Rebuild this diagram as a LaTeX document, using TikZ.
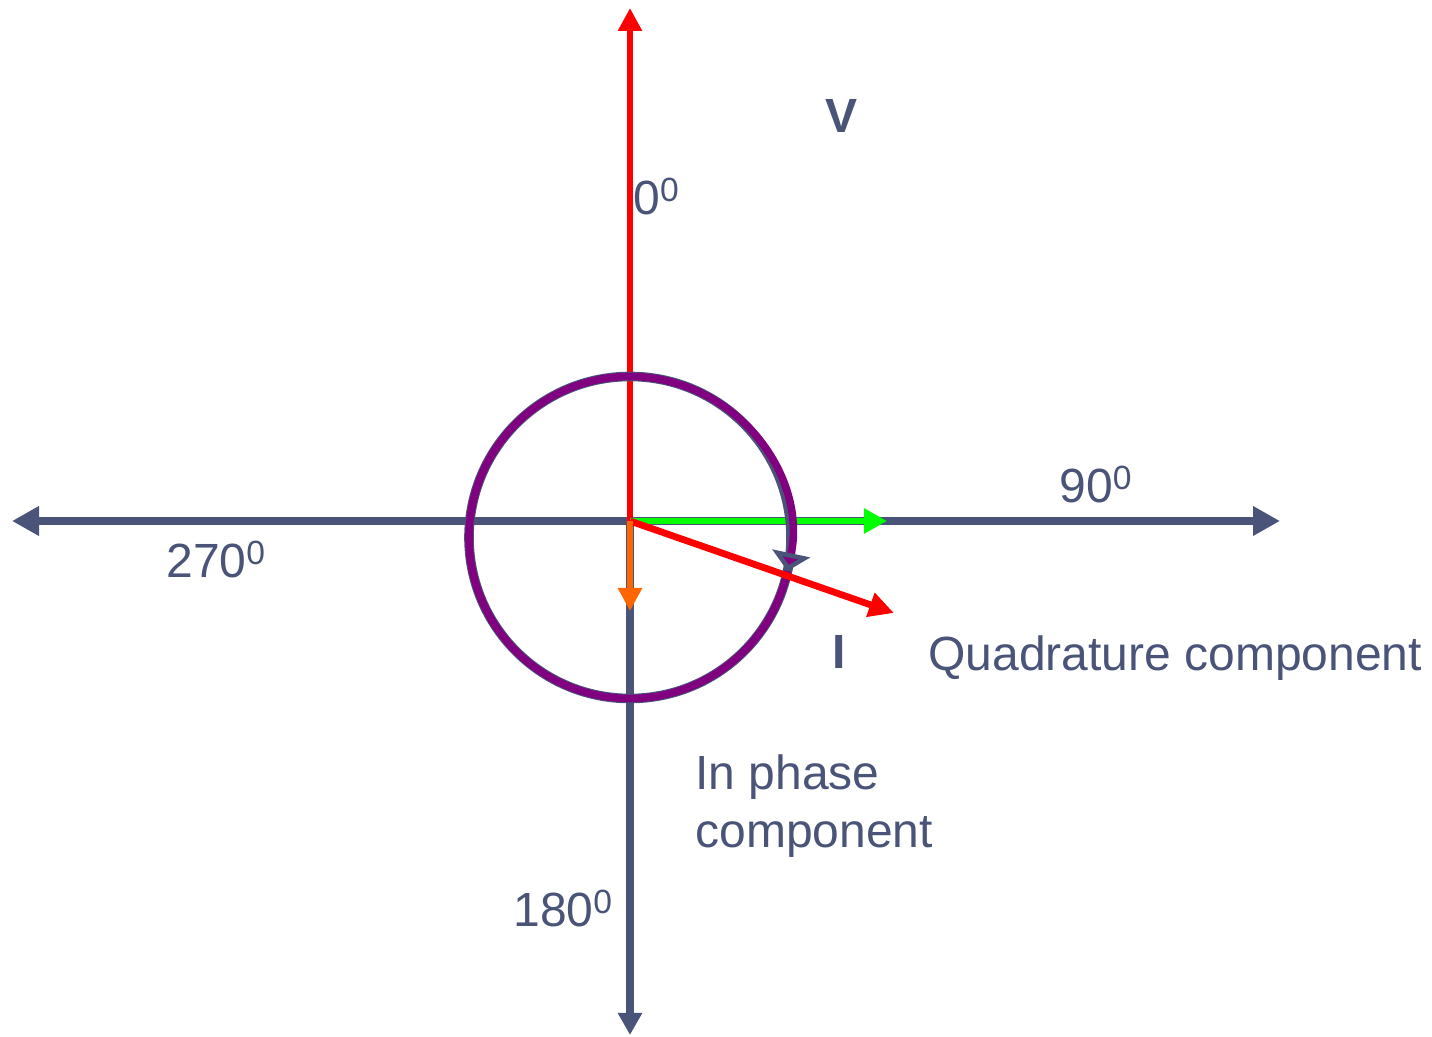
\documentclass[tikz,border=0pt]{standalone}
\usepackage{fontspec}
\setmainfont{Liberation Sans}
\usepackage{tikz}
\usetikzlibrary{arrows.meta}
\definecolor{axisgray}{RGB}{74,84,121}
\definecolor{phasered}{RGB}{255,0,0}
\definecolor{quadgreen}{RGB}{0,255,0}
\definecolor{inorange}{RGB}{255,102,0}
\definecolor{ringpurple}{RGB}{128,0,128}
\newcommand{\supzero}{\raisebox{6.5pt}{\fontsize{16.8}{18}\selectfont 0}}

\begin{document}
\begin{tikzpicture}[
    x=0.5pt, y=-0.5pt,
    lbl/.style={inner sep=0pt, text=axisgray, font=\fontsize{24}{29}\selectfont},
    bold_lbl/.style={inner sep=0pt, text=axisgray, font=\fontsize{24}{29}\selectfont\bfseries},
    axis/.style={draw=axisgray, line width=3.8pt, >={Triangle[length=13.5pt, width=14pt]}},
    phasor/.style={line width=3.4pt}
]
\useasboundingbox (0,0) rectangle (1432,1037);

% ================= COORDINATES =================
\coordinate (O) at (630,521);
\coordinate (West) at (12,521);
\coordinate (East) at (1280,521);
\coordinate (South) at (630,1035);
\coordinate (VTip) at (630,8);
\coordinate (ITip) at (894,613);
\coordinate (QTip) at (887,521);
\coordinate (PTip) at (630,611);
\coordinate (RingC) at (630,537.5);

% ================= AXES =================
\draw[axis, <->] (West) -- (East);
\draw[axis, ->, >={Triangle[length=11pt, width=11.5pt]}] (O) -- (South);

% ================= PHASORS =================
\draw[phasor, phasered, -{Triangle[length=11.5pt, width=11.5pt]}] (O) -- (VTip);
\draw[phasor, quadgreen, -{Triangle[length=11.5pt, width=12pt]}] (O) -- (QTip);

% rotation ring
\draw[axisgray, line width=4.8pt] (RingC) circle (161);
\draw[ringpurple, line width=3.8pt, -{Triangle[length=9pt, width=19pt, color=axisgray, fill=ringpurple]}]
    ([shift={(-348:161)}]RingC) arc[start angle=-348, end angle=12, radius=161];

\draw[phasor, phasered, -{Triangle[length=12.5pt, width=12pt]}] (O) -- (ITip);
\draw[phasor, inorange, -{Triangle[length=11.5pt, width=11.5pt]}] (O) -- (PTip);

% ================= LABELS =================
\node[bold_lbl, anchor=base] (VLbl) at (842,133) {V};
\node[lbl, anchor=base west] (ZeroLbl) at (633,215) {0\supzero};
\node[lbl, anchor=base west] (NinetyLbl) at (1059,503) {90\supzero};
\node[lbl, anchor=base west] (TwoSeventyLbl) at (166,578) {270\supzero};
\node[lbl, anchor=base west] (OneEightyLbl) at (513,927) {180\supzero};
\node[bold_lbl, anchor=base] (ILbl) at (839,669) {I};
\node[lbl, anchor=base west] (QuadLbl) at (928,671) {Quadrature component};
\node[lbl, anchor=base west, align=left] (InPhaseLbl) at (695,848) {In phase\\component};

\end{tikzpicture}
\end{document}
